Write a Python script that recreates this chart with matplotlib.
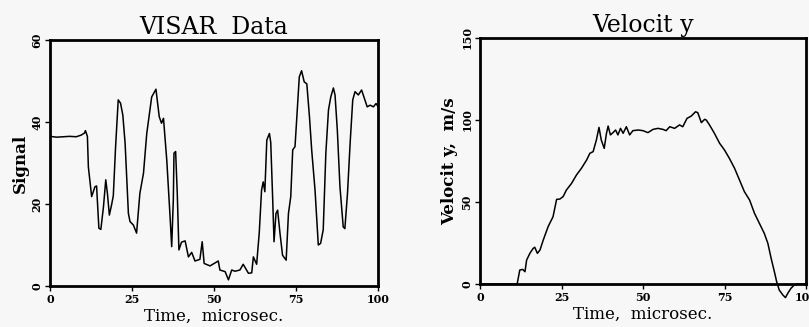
import matplotlib
matplotlib.use("Agg")
import matplotlib.pyplot as plt

# VISAR signal data (time in microsec, signal)
visar_t = [0, 2, 4, 6, 8, 9.5, 10.5, 10.8, 11.4, 11.7, 12.7, 13.7, 14.2, 14.9, 15.5,
           16.3, 17.0, 17.5, 18.1, 18.8, 19.3, 20.0, 20.8, 21.5, 22.2, 22.9, 23.9,
           24.4, 25.4, 26.4, 27.4, 28.5, 29.5, 31.0, 32.3, 33.3, 34.0, 34.6, 35.6,
           36.6, 37.1, 37.6, 37.8, 38.3, 38.8, 39.3, 40.1, 41.2, 42.2, 43.2, 44.2,
           45.7, 46.4, 47.0, 48.8, 51.3, 51.8, 53.4, 54.4, 55.4, 56.4, 57.9, 58.9,
           60.5, 61.5, 62.0, 63.0, 63.8, 64.5, 65.0, 65.5, 66.1, 66.9, 67.3, 67.9,
           68.3, 68.9, 69.4, 70.1, 70.9, 72.0, 72.7, 73.4, 74.0, 74.7, 75.2, 76.0,
           76.7, 77.5, 78.3, 79.1, 79.8, 80.8, 81.8, 82.5, 83.3, 84.1, 84.9, 85.6,
           86.4, 86.9, 87.6, 88.4, 89.4, 89.9, 90.7, 91.5, 92.3, 93.0, 94.0, 95.0,
           96.0, 96.7, 97.6, 98.6, 99.4, 100]
visar_s = [36.5, 36.3, 36.4, 36.5, 36.4, 36.8, 37.3, 37.9, 36.5, 29.0, 21.8, 24.2,
           24.4, 14.1, 13.8, 19.3, 25.9, 22.6, 17.3, 19.9, 22.0, 34.0, 45.4, 44.6,
           41.7, 34.8, 17.7, 15.7, 14.9, 12.9, 22.6, 27.5, 37.2, 46.1, 48.0, 41.3,
           39.7, 40.9, 30.7, 17.0, 9.6, 21.0, 32.4, 32.8, 22.6, 8.8, 10.7, 11.0,
           7.1, 8.2, 6.1, 6.5, 10.8, 5.5, 4.9, 6.1, 3.9, 3.5, 1.5, 3.9, 3.6, 3.9,
           5.3, 3.1, 3.2, 7.1, 5.3, 13.0, 23.4, 25.4, 23.0, 35.6, 37.2, 35.0, 21.0,
           10.8, 17.7, 18.5, 13.0, 7.5, 6.3, 17.7, 21.8, 33.2, 34.0, 40.5, 51.0,
           52.5, 49.8, 49.3, 41.3, 33.0, 23.4, 10.0, 10.4, 13.7, 32.4, 42.9, 46.1,
           48.3, 46.6, 38.0, 24.2, 14.4, 14.0, 22.6, 34.8, 45.4, 47.4, 46.6, 47.8,
           45.4, 43.7, 44.1, 43.7, 44.5, 43.8]

# Velocity data (time in microsec, m/s)
vel_t = [0, 11.2, 11.4, 12.2, 13.1, 13.8, 14.3, 15.3, 16.3, 16.8, 17.6, 18.4, 19.4,
         20.9, 22.4, 23.5, 24.5, 25.5, 26.5, 28.1, 29.6, 31.1, 32.7, 33.7, 34.7,
         35.7, 36.5, 37.2, 38.1, 38.8, 39.3, 40.0, 40.8, 41.6, 42.3, 43.1, 43.9,
         44.9, 45.9, 46.9, 48.5, 50.0, 51.5, 53.1, 54.6, 56.1, 57.1, 58.2, 59.7,
         61.2, 62.2, 63.5, 64.8, 66.1, 66.8, 67.9, 68.9, 69.4, 70.4, 71.9, 73.5,
         75.0, 76.5, 78.1, 79.6, 81.1, 82.7, 84.2, 85.7, 87.2, 88.3, 89.3, 90.3,
         91.0, 91.8, 92.9, 93.7, 94.4, 95.4, 96.4, 97.4, 100]
vel_v = [0, 0, 0, 8.5, 8.9, 7.5, 14.6, 18.7, 21.7, 22.4, 18.7, 20.7, 26.8, 35.0,
         41.0, 51.6, 51.8, 53.3, 57.3, 61.4, 66.5, 70.5, 75.6, 79.7, 80.7, 87.8,
         95.5, 87.8, 82.7, 91.9, 96.3, 90.9, 92.3, 93.9, 90.9, 94.9, 91.9, 95.9,
         90.9, 93.5, 93.9, 93.5, 92.3, 94.3, 94.9, 94.3, 93.5, 95.9, 94.9, 97.0,
         95.9, 101.0, 102.4, 105.0, 104.5, 98.4, 100.4, 100.0, 97.0, 91.9, 85.8,
         81.7, 76.6, 70.5, 63.4, 56.3, 51.2, 43.1, 37.0, 30.9, 24.8, 15.7, 7.5,
         1.4, -3.7, -6.7, -8.3, -5.7, -2.6, -0.6, 0, 0]

xticks = [0, 25, 50, 75, 100]
visar_yticks = [0, 20, 40, 60]
vel_yticks = [0, 50, 100, 150]

bg = "#f7f7f7"
serif = ["DejaVu Serif"]

fig = plt.figure(figsize=(8.09, 3.27), dpi=100, facecolor=bg)

ax1 = fig.add_axes([50 / 809, 1 - 286 / 327, 328 / 809, 246 / 327])
ax2 = fig.add_axes([480 / 809, 1 - 284 / 327, 326 / 809, 246 / 327])


def style(ax, yticks, ylim):
    ax.set_facecolor(bg)
    ax.set_xlim(0, 100)
    ax.set_ylim(*ylim)
    ax.set_xticks(xticks)
    ax.set_yticks(yticks)
    ax.set_xticklabels([str(v) for v in xticks], fontsize=8, fontweight="bold",
                       family=serif)
    ax.set_yticklabels([str(v) for v in yticks], fontsize=8, fontweight="bold",
                       family=serif, rotation=90, va="center")
    ax.tick_params(direction="out", length=3.5, width=1, pad=2, color="black")
    for s in ax.spines.values():
        s.set_linewidth(2.0)
        s.set_color("black")
    ax.set_xlabel("Time,  microsec.", fontsize=12, family=serif, labelpad=2.5)


style(ax1, visar_yticks, (0, 60))
style(ax2, vel_yticks, (0, 150))

ax1.plot(visar_t, visar_s, color="black", lw=1.1, clip_on=True)
ax2.plot(vel_t, vel_v, color="black", lw=1.1, clip_on=False)

ax1.set_title("VISAR  Data", fontsize=17, family=serif, pad=4)
ax2.set_title("Velocit y", fontsize=17, family=serif, pad=4)
ax1.set_ylabel("Signal", fontsize=12, family=serif, fontweight="bold", labelpad=2)
ax2.set_ylabel("Velocit y,  m/s", fontsize=12, family=serif, fontweight="bold",
               labelpad=2)

fig.savefig("out.png", dpi=100, facecolor=bg)
